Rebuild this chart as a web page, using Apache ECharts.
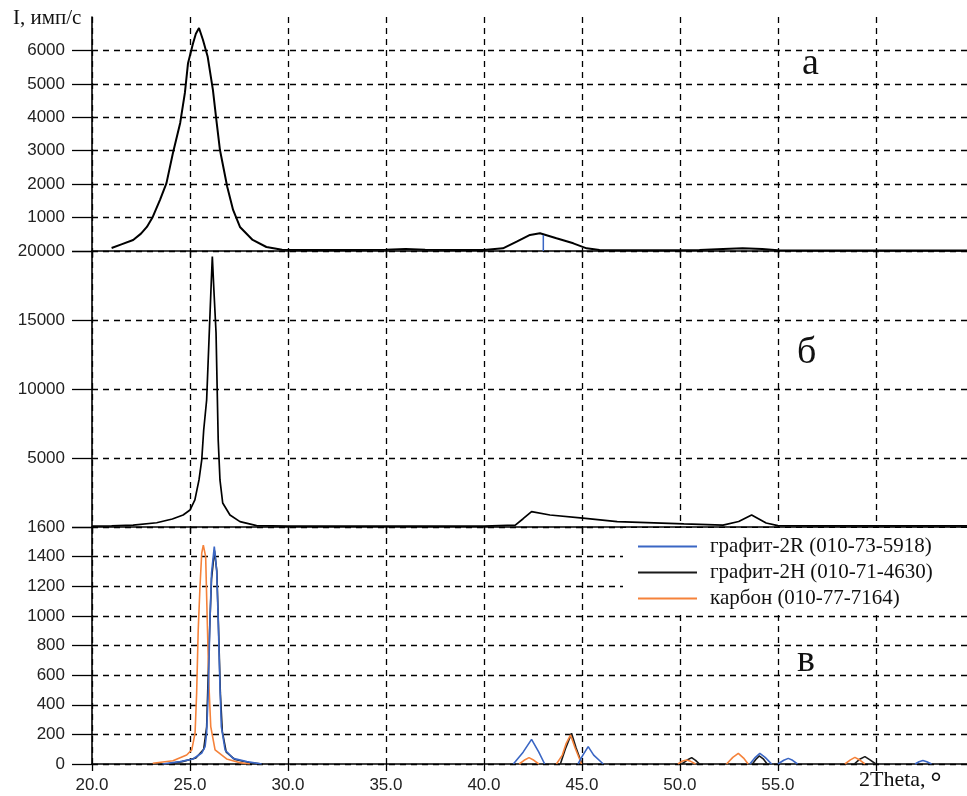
<!DOCTYPE html>
<html>
<head>
<meta charset="utf-8">
<script src="https://cdn.jsdelivr.net/npm/echarts@6/dist/echarts.min.js"></script>
<style>
html,body{margin:0;padding:0;background:#fff;}
#chart{width:967px;height:796px;}
</style>
</head>
<body>
<div id="chart"></div>
<script>
// панель а - образец
var aX = [21.0, 21.5, 22.1, 22.5, 22.8, 23.1, 23.47, 23.8, 24.13, 24.5, 24.74, 24.9, 25.15, 25.3, 25.46, 25.66, 25.9, 26.17, 26.35, 26.53, 26.9, 27.2, 27.55, 28.2, 28.9, 29.7, 31, 33, 35, 36, 37, 39, 40, 40.97, 41.67, 42.35, 42.86, 43.7, 44.56, 45.24, 45.9, 47, 49, 51, 52.2, 53.2, 54.2, 55, 57, 60, 62, 64.7];
var aY = [90, 200, 330, 520, 720, 1020, 1530, 2030, 2930, 3830, 4730, 5620, 6200, 6500, 6670, 6320, 5820, 4820, 3900, 3020, 1920, 1230, 720, 330, 120, 40, 30, 30, 40, 60, 40, 30, 30, 80, 280, 480, 530, 380, 230, 80, 30, 20, 20, 30, 60, 80, 60, 20, 15, 15, 15, 15];
var markX = [43.03, 43.03];
var markY = [0, 480];
// панель б
var bX = [20.0, 21, 22.1, 23.3, 24.1, 24.65, 25.0, 25.25, 25.46, 25.6, 25.7, 25.85, 25.97, 26.07, 26.14, 26.22, 26.33, 26.44, 26.53, 26.67, 27.04, 27.55, 28.4, 30, 35, 40, 41.6, 42.0, 42.43, 43.37, 45.05, 46.8, 50.2, 52.2, 53.0, 53.66, 54.4, 55.0, 57, 60, 64.7];
var bY = [60, 80, 140, 310, 580, 870, 1230, 1960, 3410, 4860, 7030, 9200, 13550, 17170, 19590, 17170, 14060, 6300, 3410, 1740, 870, 390, 100, 70, 70, 70, 140, 600, 1110, 870, 650, 390, 220, 140, 400, 870, 290, 100, 80, 80, 80];
// панель в - эталоны (null = разрыв линии)
var c2RX = [23.6, 24.5, 25.15, 25.6, 25.77, 25.85, 25.94, 26.02, 26.1, 26.24, 26.36, 26.44, 26.53, 26.6, 26.79, 27.2, 27.9, 28.66, 35, 41.5, 42.0, 42.43, 42.8, 43.1, 44, 44.8, 45.05, 45.32, 45.6, 46.09, 50, 53.57, 53.85, 54.08, 54.35, 54.68, 54.8, 55.0, 55.3, 55.53, 55.75, 56.0, 59, 62.0, 62.2, 62.4, 62.6, 62.84];
var c2RY = [0, 16, 34, 74, 117, 209, 522, 972, 1289, 1467, 1310, 972, 522, 252, 95, 38, 16, 0, null, 0, 80, 166, 80, 0, null, 0, 60, 117, 60, 0, null, 0, 45, 72, 45, 0, null, 0, 25, 38, 25, 0, null, 0, 15, 23, 15, 0];
var c2HX = [23.8, 24.6, 25.3, 25.7, 25.85, 25.92, 26.0, 26.1, 26.25, 26.37, 26.45, 26.55, 26.65, 26.85, 27.3, 28.0, 28.7, 35, 43.9, 44.15, 44.47, 44.7, 45.0, 47, 50.1, 50.35, 50.6, 50.8, 51.0, 52, 53.7, 53.9, 54.05, 54.25, 54.45, 57, 58.9, 59.15, 59.44, 59.7, 60.0];
var c2HY = [0, 16, 40, 100, 250, 560, 900, 1250, 1440, 1300, 950, 480, 220, 80, 30, 10, 0, null, 0, 100, 207, 110, 0, null, 0, 25, 43, 25, 0, null, 0, 35, 55, 35, 0, null, 0, 30, 50, 28, 0];
var cCX = [23.1, 24.13, 24.83, 25.09, 25.26, 25.34, 25.42, 25.51, 25.6, 25.68, 25.8, 25.88, 25.97, 26.06, 26.28, 26.87, 27.55, 28.06, 35, 41.8, 42.05, 42.3, 42.55, 42.8, 43.2, 43.7, 44.0, 44.2, 44.42, 44.65, 44.98, 47, 49.9, 50.1, 50.34, 50.55, 50.8, 51.5, 52.38, 52.7, 52.98, 53.25, 53.48, 56, 58.42, 58.7, 58.93, 59.2, 59.44];
var cCY = [5, 22, 61, 95, 209, 479, 904, 1197, 1424, 1478, 1400, 972, 522, 252, 95, 34, 9, 0, null, 0, 25, 43, 25, 0, null, 0, 60, 140, 196, 110, 0, null, 0, 18, 27, 18, 0, null, 0, 45, 72, 40, 0, null, 0, 28, 45, 25, 0];
var legendNames = ['графит-2R (010-73-5918)', 'графит-2H (010-71-4630)', 'карбон (010-77-7164)'];
var xTicks = [20, 25, 30, 35, 40, 45, 50, 55, 60];
var xLabels = [20, 25, 30, 35, 40, 45, 50, 55];
var aTicks = [0, 1000, 2000, 3000, 4000, 5000, 6000];

function zip(xs, ys) {
	var out = [];
	for (var i = 0; i < xs.length; i++) {
		out.push([xs[i], ys[i] === null ? '-' : ys[i]]);
	}
	return out;
}

var dash = { color: '#000', type: [6, 5], width: 1.3 };
var sans = 'Liberation Sans';
var serif = 'Liberation Serif';

function xAxisFor(idx, labels) {
	return {
		type: 'value', gridIndex: idx, min: 20, max: 64.65, interval: 5,
		axisLine: { show: true, onZero: false, lineStyle: { color: '#000', width: 1.6 } },
		axisTick: { show: true, length: 7, customValues: xTicks, lineStyle: { color: '#000', width: 1.3 } },
		axisLabel: {
			show: labels, margin: 13, color: '#222', fontFamily: sans, fontSize: 17,
			customValues: xLabels,
			formatter: function (v) { return v.toFixed(1); }
		},
		splitLine: { show: true, lineStyle: dash }
	};
}
function yAxisFor(idx, max, step, hide, ticks) {
	var tick = { show: true, length: 20, lineStyle: { color: '#000', width: 1.3 } };
	if (ticks) tick.customValues = ticks;
	return {
		type: 'value', gridIndex: idx, min: 0, max: max, interval: step,
		axisLine: { show: true, lineStyle: { color: '#000', width: 1.6 } },
		axisTick: tick,
		axisLabel: {
			margin: 27, color: '#222', fontFamily: sans, fontSize: 17,
			formatter: function (v) { return hide.indexOf(v) >= 0 ? '' : String(v); }
		},
		// с customValues верхней метки нет, поэтому последнюю линию не прячем
		splitLine: { show: true, showMaxLine: !ticks ? false : true, lineStyle: dash }
	};
}

var chart = echarts.init(document.getElementById('chart'));
var option = {
	animation: false,
	backgroundColor: '#fff',
	title: {
		text: 'I, имп/с', left: 8, top: 3,
		textStyle: { fontFamily: serif, fontSize: 21, fontWeight: 'normal', color: '#111' }
	},
	grid: [
		{ left: 92, right: 0, top: 17, height: 234 },
		{ left: 92, right: 0, top: 251, height: 276 },
		{ left: 92, right: 0, top: 527, height: 237 }
	],
	xAxis: [xAxisFor(0, false), xAxisFor(1, false), xAxisFor(2, true)],
	yAxis: [
		yAxisFor(0, 7000, 1000, [0, 7000], aTicks),
		yAxisFor(1, 20000, 5000, [0]),
		yAxisFor(2, 1600, 200, [])
	],
	legend: {
		data: legendNames, orient: 'vertical', left: 623, top: 528,
		backgroundColor: '#fff', padding: [6, 40, 3, 15],
		icon: 'rect', itemWidth: 59, itemHeight: 2, itemGap: 1,
		textStyle: { fontFamily: serif, fontSize: 21, color: '#111', lineHeight: 25, padding: [0, 0, 0, 8] }
	},
	graphic: [
		{ type: 'text', left: 802, top: 45, style: { text: 'а', font: '38px "Liberation Serif"', fill: '#111' } },
		{ type: 'text', left: 797, top: 334, style: { text: 'б', font: '38px "Liberation Serif"', fill: '#111' } },
		{ type: 'text', left: 797, top: 642, style: { text: 'в', font: '38px "Liberation Serif"', fill: '#111' } },
		{ type: 'text', left: 859, top: 769, style: { text: '2Theta,', font: '22px "Liberation Serif"', fill: '#111' } },
		{ type: 'text', left: 930, top: 770, style: { text: '°', font: '30px "Liberation Sans"', fill: '#111' } }
	],
	series: [
		{ type: 'line', xAxisIndex: 0, yAxisIndex: 0, data: zip(aX, aY), showSymbol: false, lineStyle: { color: '#000', width: 2 }, itemStyle: { color: '#000' } },
		{ type: 'line', xAxisIndex: 0, yAxisIndex: 0, data: zip(markX, markY), showSymbol: false, lineStyle: { color: '#3a66c4', width: 1.5 } },
		{ type: 'line', xAxisIndex: 1, yAxisIndex: 1, data: zip(bX, bY), showSymbol: false, lineStyle: { color: '#000', width: 1.7 } },
		{ name: legendNames[1], type: 'line', xAxisIndex: 2, yAxisIndex: 2, data: zip(c2HX, c2HY), showSymbol: false, connectNulls: false, lineStyle: { color: '#1a1a1a', width: 1.6 }, itemStyle: { color: '#1a1a1a' } },
		{ name: legendNames[2], type: 'line', xAxisIndex: 2, yAxisIndex: 2, data: zip(cCX, cCY), showSymbol: false, connectNulls: false, lineStyle: { color: '#f5823a', width: 1.6 }, itemStyle: { color: '#f5823a' } },
		{ name: legendNames[0], type: 'line', xAxisIndex: 2, yAxisIndex: 2, data: zip(c2RX, c2RY), showSymbol: false, connectNulls: false, lineStyle: { color: '#3a66c4', width: 1.6 }, itemStyle: { color: '#3a66c4' } }
	]
};
chart.setOption(option);
</script>
</body>
</html>
